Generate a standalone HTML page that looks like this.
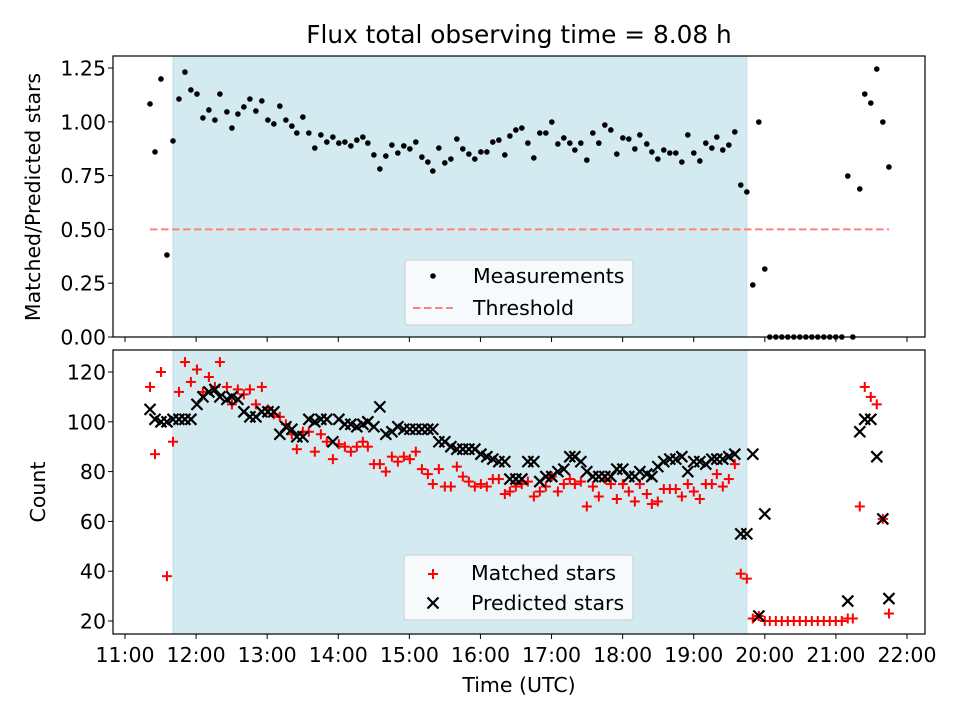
<!DOCTYPE html>
<html><head><meta charset="utf-8"><style>
html,body{margin:0;padding:0;background:#fff;}
svg{display:block;font-family:"DejaVu Sans","Liberation Sans",sans-serif;}
</style></head><body>
<svg id="chart" width="960" height="720" viewBox="0 0 960 720" xmlns="http://www.w3.org/2000/svg"></svg>
<script>
// Data (times in decimal UTC hours)
const times = [11.352,11.422,11.506,11.590,11.675,11.759,11.843,11.927,12.012,12.096,12.180,12.265,12.335,12.433,12.504,12.588,12.672,12.757,12.841,12.925,13.010,13.094,13.178,13.263,13.347,13.417,13.502,13.586,13.670,13.755,13.839,13.924,14.008,14.093,14.177,14.261,14.346,14.416,14.501,14.585,14.669,14.754,14.838,14.922,15.007,15.091,15.176,15.260,15.330,15.415,15.499,15.584,15.668,15.752,15.837,15.921,16.006,16.090,16.174,16.259,16.343,16.414,16.498,16.582,16.667,16.751,16.835,16.920,17.004,17.089,17.173,17.257,17.328,17.412,17.496,17.581,17.665,17.750,17.834,17.918,18.003,18.087,18.172,18.242,18.340,18.411,18.495,18.579,18.664,18.748,18.833,18.917,19.001,19.086,19.170,19.255,19.325,19.409,19.494,19.578,19.662,19.747,19.831,19.916,20.000,20.070,20.155,20.239,20.323,20.408,20.492,20.577,20.661,20.745,20.830,20.914,20.998,21.083,21.167,21.238,21.336,21.406,21.491,21.575,21.660,21.746];
const ratios = [1.083,0.860,1.199,0.381,0.911,1.106,1.231,1.148,1.129,1.018,1.055,1.008,1.129,1.046,0.971,1.036,1.069,1.106,1.050,1.097,1.008,0.990,1.073,1.008,0.980,0.948,1.022,0.948,0.878,0.939,0.906,0.929,0.901,0.906,0.888,0.915,0.929,0.901,0.846,0.781,0.841,0.892,0.855,0.888,0.874,0.906,0.836,0.813,0.771,0.878,0.809,0.827,0.920,0.874,0.850,0.827,0.860,0.860,0.906,0.915,0.846,0.934,0.962,0.971,0.901,0.832,0.948,0.948,0.999,0.897,0.925,0.901,0.869,0.901,0.822,0.948,0.901,0.985,0.962,0.850,0.925,0.920,0.874,0.939,0.897,0.860,0.827,0.869,0.855,0.855,0.813,0.939,0.855,0.818,0.901,0.878,0.929,0.869,0.892,0.953,0.706,0.674,0.242,0.999,0.316,0,0,0,0,0,0,0,0,0,0,0,0,0,0.748,0,0.688,1.129,1.087,1.245,0.999,0.790];
const predicted = [105,101,100,100,101,101,101,101,107,110,112,113,110,109,110,109,104,102,102,104,104,104,95,98,97,94,94,101,100,101,101,92,101,99,99,98,99,100,98,106,95,96,98,97,97,97,97,97,97,92,92,90,89,89,89,89,87,86,85,84,84,77,77,77,84,84,76,78,78,80,81,86,86,84,80,78,78,78,78,81,81,78,78,80,79,78,82,84,85,85,86,80,84,84,83,85,85,85,86,87,55,55,87,22,63,null,null,null,null,null,null,null,null,null,null,null,null,null,28,null,96,101,101,86,61,29];
const matched = [114,87,120,38,92,112,124,116,121,112,118,114,124,114,107,113,111,113,107,114,105,103,102,99,95,89,96,96,88,95,92,85,91,90,88,90,92,90,83,83,80,86,84,86,85,88,81,79,75,81,74,74,82,78,76,74,75,74,77,77,71,72,74,75,76,70,72,74,78,72,75,77,75,76,66,74,70,77,75,69,75,72,68,75,71,67,68,73,73,73,70,75,72,69,75,75,79,74,77,83,39,37,21,22,20,20,20,20,20,20,20,20,20,20,20,20,20,20,21,21,66,114,110,107,61,23];
const xTickLabels = ["11:00","12:00","13:00","14:00","15:00","16:00","17:00","18:00","19:00","20:00","21:00","22:00"];
const xTickHours = [11,12,13,14,15,16,17,18,19,20,21,22];
const topTicks = [0,0.25,0.5,0.75,1.0,1.25];
const topTickLabels = ["0.00","0.25","0.50","0.75","1.00","1.25"];
const botTicks = [20,40,60,80,100,120];
const shadeSpan = [11.675,19.748];
const threshold = 0.5;

const NS="http://www.w3.org/2000/svg";
const svg=document.getElementById('chart');
const FS='20.5';
function mk(tag,attrs,parent){const e=document.createElementNS(NS,tag);for(const k in attrs)e.setAttribute(k,attrs[k]);(parent||svg).appendChild(e);return e;}
const L=113,R=925;
const T1=56,B1=337,T2=350,B2=634;
const xs=h=>125+(h-11)*71.09;
const y1=v=>337-v*215.2;
const y2=v=>621-(v-20)*2.49;

function axesFrame(top,bot,name){
  const g=mk('g',{});
  
  
  mk('rect',{x:L,y:top,width:R-L,height:bot-top,fill:'#fff'},g);
  const sh=mk('rect',{x:xs(shadeSpan[0]),y:top,width:xs(shadeSpan[1])-xs(shadeSpan[0]),height:bot-top,fill:'#d4eaf1',stroke:'#bfdfe8','stroke-width':1},g);
  
  
  return g;
}
function frameBorder(top,bot){mk('rect',{x:L,y:top,width:R-L,height:bot-top,fill:'none',stroke:'#000','stroke-width':1.2});}

// Title
const title=mk('text',{x:519,y:43,'text-anchor':'middle','font-size':'24.8'});
title.textContent='Flux total observing time = 8.08 h';



// ---- Top axes
axesFrame(T1,B1,'ratio-axes');
const thr=mk('line',{x1:xs(times[0]),x2:xs(times[times.length-1]),y1:y1(threshold),y2:y1(threshold),stroke:'#ff8080','stroke-width':2,'stroke-dasharray':'7.5,3.5'});


times.forEach((t,i)=>{
  const c=mk('circle',{cx:xs(t),cy:y1(ratios[i]),r:2.8,fill:'#000'});
  
  
});
frameBorder(T1,B1);
topTicks.forEach((v,i)=>{
  mk('line',{x1:L-5,x2:L,y1:y1(v),y2:y1(v),stroke:'#000','stroke-width':1});
  const t=mk('text',{x:L-7,y:y1(v)+7.5,'text-anchor':'end','font-size':FS});
  t.textContent=topTickLabels[i];
  
  
});
xTickHours.forEach(h=>{mk('line',{x1:xs(h),x2:xs(h),y1:B1,y2:B1+5,stroke:'#000','stroke-width':1});});
const yl1=mk('text',{transform:'translate(40,197) rotate(-90)','text-anchor':'middle','font-size':FS});
yl1.textContent='Matched/Predicted stars';



// top legend
const lg1=mk('g',{});


mk('rect',{x:405,y:260,width:228,height:65,rx:3,fill:'#f6fafc',stroke:'#cccccc','stroke-width':1},lg1);
mk('circle',{cx:433,cy:276,r:2.8,fill:'#000'},lg1);
const lt1=mk('text',{x:473,y:283,'font-size':FS},lg1);lt1.textContent='Measurements';


mk('line',{x1:413,x2:453,y1:308,y2:308,stroke:'#ff8080','stroke-width':2,'stroke-dasharray':'7.5,3.5'},lg1);
const lt2=mk('text',{x:473,y:315,'font-size':FS},lg1);lt2.textContent='Threshold';



// ---- Bottom axes
axesFrame(T2,B2,'count-axes');
function plus(x,y,parent){const g=mk('g',{},parent);mk('line',{x1:x-5,x2:x+5,y1:y,y2:y,stroke:'#ff0000','stroke-width':2},g);mk('line',{x1:x,x2:x,y1:y-5,y2:y+5,stroke:'#ff0000','stroke-width':2},g);return g;}
function cross(x,y,parent){const g=mk('g',{},parent);mk('line',{x1:x-5.5,x2:x+5.5,y1:y-5.5,y2:y+5.5,stroke:'#000','stroke-width':2.2},g);mk('line',{x1:x-5.5,x2:x+5.5,y1:y+5.5,y2:y-5.5,stroke:'#000','stroke-width':2.2},g);return g;}
times.forEach((t,i)=>{
  const p=plus(xs(t),y2(matched[i]));
  
  
});
times.forEach((t,i)=>{
  if(predicted[i]===null)return;
  const c=cross(xs(t),y2(predicted[i]));
  
  
});
frameBorder(T2,B2);
botTicks.forEach(v=>{
  mk('line',{x1:L-5,x2:L,y1:y2(v),y2:y2(v),stroke:'#000','stroke-width':1});
  const t=mk('text',{x:L-7,y:y2(v)+7.5,'text-anchor':'end','font-size':FS});
  t.textContent=String(v);
  
  
});
xTickHours.forEach((h,i)=>{
  mk('line',{x1:xs(h),x2:xs(h),y1:B2,y2:B2+5,stroke:'#000','stroke-width':1});
  const t=mk('text',{x:xs(h),y:B2+28,'text-anchor':'middle','font-size':FS});
  t.textContent=xTickLabels[i];
  
  
});
const yl2=mk('text',{transform:'translate(45,492) rotate(-90)','text-anchor':'middle','font-size':FS});
yl2.textContent='Count';


const xl=mk('text',{x:519,y:692,'text-anchor':'middle','font-size':FS});
xl.textContent='Time (UTC)';



// bottom legend
const lg2=mk('g',{});


mk('rect',{x:404,y:555,width:229,height:65,rx:3,fill:'#f6fafc',stroke:'#cccccc','stroke-width':1},lg2);
plus(433,574,lg2);
const lt3=mk('text',{x:471,y:580,'font-size':FS},lg2);lt3.textContent='Matched stars';


cross(433,603,lg2);
const lt4=mk('text',{x:471,y:610,'font-size':FS},lg2);lt4.textContent='Predicted stars';


</script>
</body></html>
